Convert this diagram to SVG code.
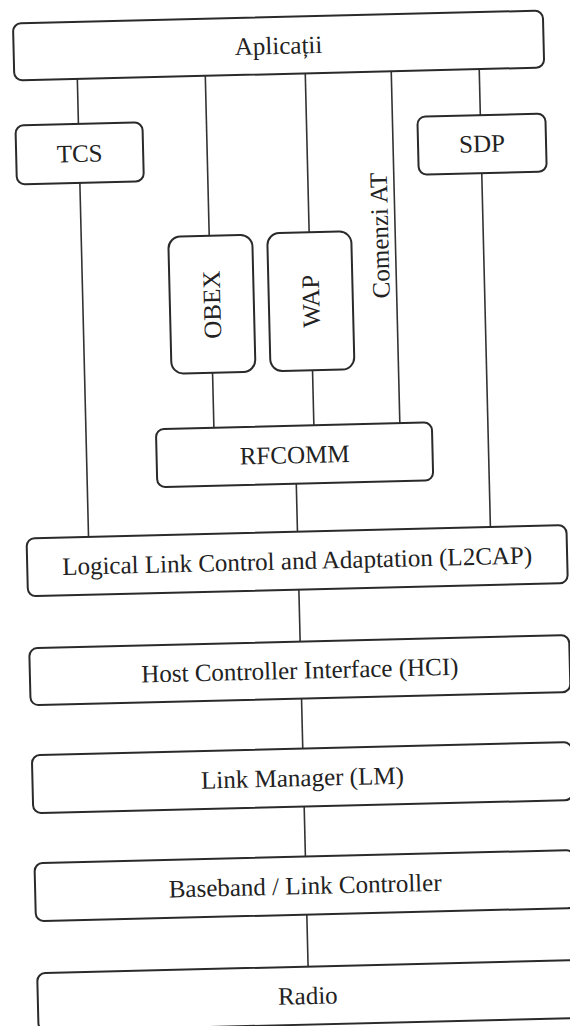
<svg xmlns="http://www.w3.org/2000/svg" width="570" height="1026" viewBox="0 0 570 1026">
  <style>
    .box { fill: #ffffff; stroke: #2a2a2a; stroke-width: 2; }
    .link { stroke: #333333; stroke-width: 1.6; fill: none; }
    .lbl { font-family: "Liberation Serif", "Times New Roman", serif; font-size: 25px; fill: #222222; text-anchor: middle; }
  </style>
  <rect width="570" height="1026" fill="#ffffff"/>
  <!-- the whole stack sits slightly tilted on the page -->
  <g transform="rotate(-1.4 285 513)">
    <g id="connectors">
      <line class="link" x1="88" y1="74" x2="88" y2="119"/>
      <line class="link" x1="88" y1="178" x2="88" y2="532"/>
      <line class="link" x1="490" y1="74" x2="490" y2="120"/>
      <line class="link" x1="490" y1="178" x2="490" y2="532"/>
      <line class="link" x1="216" y1="74" x2="216" y2="234"/>
      <line class="link" x1="316" y1="74" x2="316" y2="233"/>
      <line class="link" x1="402" y1="74" x2="402" y2="426"/>
      <line class="link" x1="216" y1="371" x2="216" y2="426"/>
      <line class="link" x1="316" y1="371" x2="316" y2="426"/>
      <line class="link" x1="297" y1="484" x2="297" y2="532"/>
      <line class="link" x1="297" y1="590" x2="297" y2="642"/>
      <line class="link" x1="297" y1="699" x2="297" y2="749"/>
      <line class="link" x1="297" y1="807" x2="297" y2="857"/>
      <line class="link" x1="297" y1="915" x2="297" y2="967"/>
    </g>
    <g id="aplicatii">
      <rect class="box" x="25" y="17" width="530" height="57" rx="8"/>
      <text class="lbl" x="290" y="54">Aplicații</text>
    </g>
    <g id="tcs">
      <rect class="box" x="25" y="119" width="127" height="59" rx="8"/>
      <text class="lbl" x="88.5" y="157">TCS</text>
    </g>
    <g id="sdp">
      <rect class="box" x="427" y="120" width="128" height="58" rx="8"/>
      <text class="lbl" x="491" y="157">SDP</text>
    </g>
    <g id="obex">
      <rect class="box" x="175" y="234" width="84" height="137" rx="12"/>
      <text class="lbl" transform="translate(225.5 303) rotate(-90)">OBEX</text>
    </g>
    <g id="wap">
      <rect class="box" x="274" y="233" width="84" height="138" rx="12"/>
      <text class="lbl" transform="translate(324.5 302) rotate(-90)">WAP</text>
    </g>
    <g id="comenzi-at">
      <text class="lbl" transform="translate(395 238) rotate(-90)">Comenzi AT</text>
    </g>
    <g id="rfcomm">
      <rect class="box" x="158" y="426" width="276" height="58" rx="8"/>
      <text class="lbl" x="296" y="463.5">RFCOMM</text>
    </g>
    <g id="l2cap">
      <rect class="box" x="26" y="532" width="540" height="58" rx="8"/>
      <text class="lbl" x="296" y="569.5">Logical Link Control and Adaptation (L2CAP)</text>
    </g>
    <g id="hci">
      <rect class="box" x="26" y="642" width="540" height="57" rx="8"/>
      <text class="lbl" x="296" y="679">Host Controller Interface (HCI)</text>
    </g>
    <g id="lm">
      <rect class="box" x="26" y="749" width="540" height="58" rx="8"/>
      <text class="lbl" x="296" y="786.5">Link Manager (LM)</text>
    </g>
    <g id="baseband">
      <rect class="box" x="26" y="857" width="540" height="58" rx="8"/>
      <text class="lbl" x="296" y="894.5">Baseband / Link Controller</text>
    </g>
    <g id="radio">
      <rect class="box" x="26" y="967" width="540" height="58" rx="8"/>
      <text class="lbl" x="296" y="1004.5">Radio</text>
    </g>
  </g>
</svg>
